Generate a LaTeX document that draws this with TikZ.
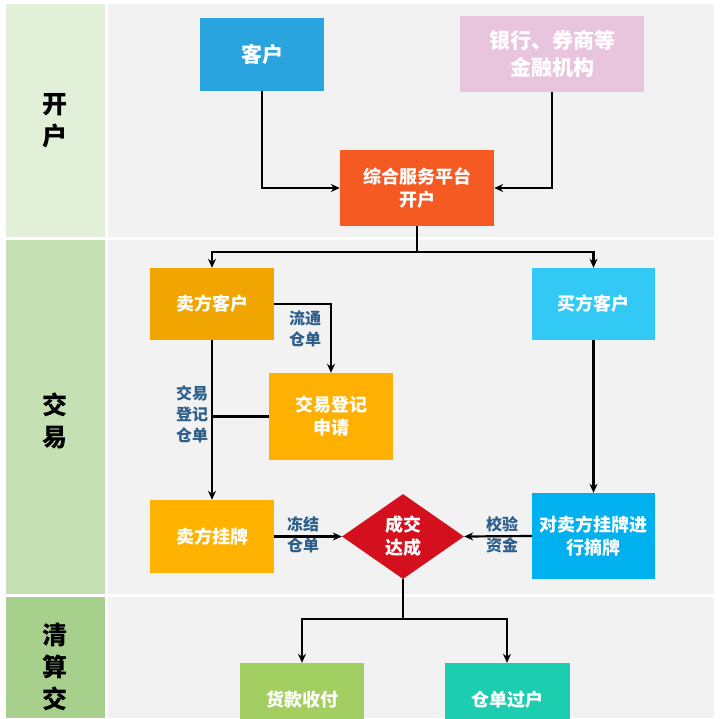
\documentclass[tikz,border=0pt]{standalone}
\usepackage{fontspec}
\setmainfont{Noto Sans CJK SC}
\usetikzlibrary{shapes.geometric,arrows.meta}
\definecolor{laneA}{HTML}{E2EFD9}
\definecolor{laneB}{HTML}{C5E0B3}
\definecolor{laneC}{HTML}{A8D08D}
\definecolor{bgray}{HTML}{F2F2F2}
\definecolor{cKehu}{HTML}{2AA4DE}
\definecolor{cBank}{HTML}{E8C5DC}
\definecolor{cPlat}{HTML}{F55A22}
\definecolor{cSeller}{HTML}{F0A500}
\definecolor{cReg}{HTML}{FFB000}
\definecolor{cList}{HTML}{FFB300}
\definecolor{cBuyer}{HTML}{33C9F5}
\definecolor{cPick}{HTML}{00B0EF}
\definecolor{cDeal}{HTML}{D4101E}
\definecolor{cPay}{HTML}{A3CF62}
\definecolor{cTrans}{HTML}{1DCDB0}
\definecolor{cLabel}{HTML}{2E5F8A}
\tikzset{
  box/.style={rectangle, inner sep=0pt, text=white, align=center,
    font=\bfseries\fontsize{18}{23}\selectfont, minimum width=124pt, minimum height=73pt},
  bigbox/.style={box, font=\bfseries\fontsize{21}{27}\selectfont},
  lbl/.style={text=cLabel, align=center, inner sep=0pt, font=\bfseries\fontsize{16}{21}\selectfont},
  lanelbl/.style={text=black, align=center, inner sep=0pt, font=\bfseries\fontsize{25}{32}\selectfont},
  conn/.style={line width=2.2pt, draw=black},
  arr/.style={conn, -{Stealth[length=9pt,width=8pt]}}
}
\begin{document}
\begin{tikzpicture}[x=1pt,y=-1pt]
\useasboundingbox (0,0) rectangle (720,718);
\clip (0,0) rectangle (720,718);
\fill[white] (0,0) rectangle (720,718);
% lanes
\fill[laneA] (6,4) rectangle (105,237);
\fill[laneB] (6,240) rectangle (105,594);
\fill[laneC] (6,597) rectangle (105,718);
\fill[bgray] (108,4) rectangle (714,237);
\fill[bgray] (108,240) rectangle (714,594);
\fill[bgray] (108,597) rectangle (714,718);
\node[lanelbl] (l1) at (55,121) {开\\户};
\node[lanelbl] (l2) at (55,421) {交\\易};
\node[lanelbl] (l3) at (55,667) {清\\算\\交};
% nodes
\node[bigbox, fill=cKehu] (kehu) at (262,54) {客户};
\node[bigbox, fill=cBank, minimum width=184pt, minimum height=76pt] (bank) at (552,54) {银行、券商等\\金融机构};
\node[box, fill=cPlat, minimum width=154pt, minimum height=76pt] (plat) at (417,188) {综合服务平台\\开户};
\node[box, fill=cSeller, minimum height=72pt] (seller) at (212,304) {卖方客户};
\node[box, fill=cBuyer, minimum width=123pt, minimum height=72pt] (buyer) at (593.5,304) {买方客户};
\node[box, fill=cReg, minimum height=87pt] (reg) at (331,416.5) {交易登记\\申请};
\node[box, fill=cList, minimum height=73pt] (list) at (212,536.5) {卖方挂牌};
\node[box, fill=cPick, minimum width=123pt, minimum height=86pt] (pick) at (593.5,536) {对卖方挂牌进\\行摘牌};
\node[diamond, fill=cDeal, text=white, align=center, inner sep=0pt,
  minimum width=122pt, minimum height=85pt,
  font=\bfseries\fontsize{18}{23}\selectfont] (deal) at (403,536.5) {成交\\达成};
\node[box, fill=cPay, minimum height=74pt] (pay) at (302,700) {货款收付};
\node[box, fill=cTrans, minimum width=125pt, minimum height=74pt] (trans) at (507,700) {仓单过户};
% connectors
\draw[arr] (kehu.south) |- (plat.west);
\draw[arr] (bank.south) |- (plat.east);
\coordinate (j1) at (417,252);
\draw[conn] (plat.south) -- (j1);
\draw[arr] (j1) -| (seller.north);
\draw[arr] (j1) -| (buyer.north);
\draw[arr] (seller.east) -| (reg.north);
\draw[arr] (seller.south) -- (list.north);
\draw[conn] (reg.west) -- (reg.west -| seller.south);
\draw[arr] (buyer.south) -- (pick.north);
\draw[arr] (list.east) -- (deal.west);
\draw[arr] (pick.west) -- (deal.east);
\coordinate (j2) at (403,619);
\draw[conn] (deal.south) -- (j2);
\draw[arr] (j2) -| (pay.north);
\draw[arr] (j2) -| (trans.north);
% labels
\node[lbl] (t1) at (305,329) {流通\\仓单};
\node[lbl] (t2) at (192,414) {交易\\登记\\仓单};
\node[lbl] (t3) at (303,535) {冻结\\仓单};
\node[lbl] (t4) at (502,535) {校验\\资金};
\end{tikzpicture}
\end{document}
